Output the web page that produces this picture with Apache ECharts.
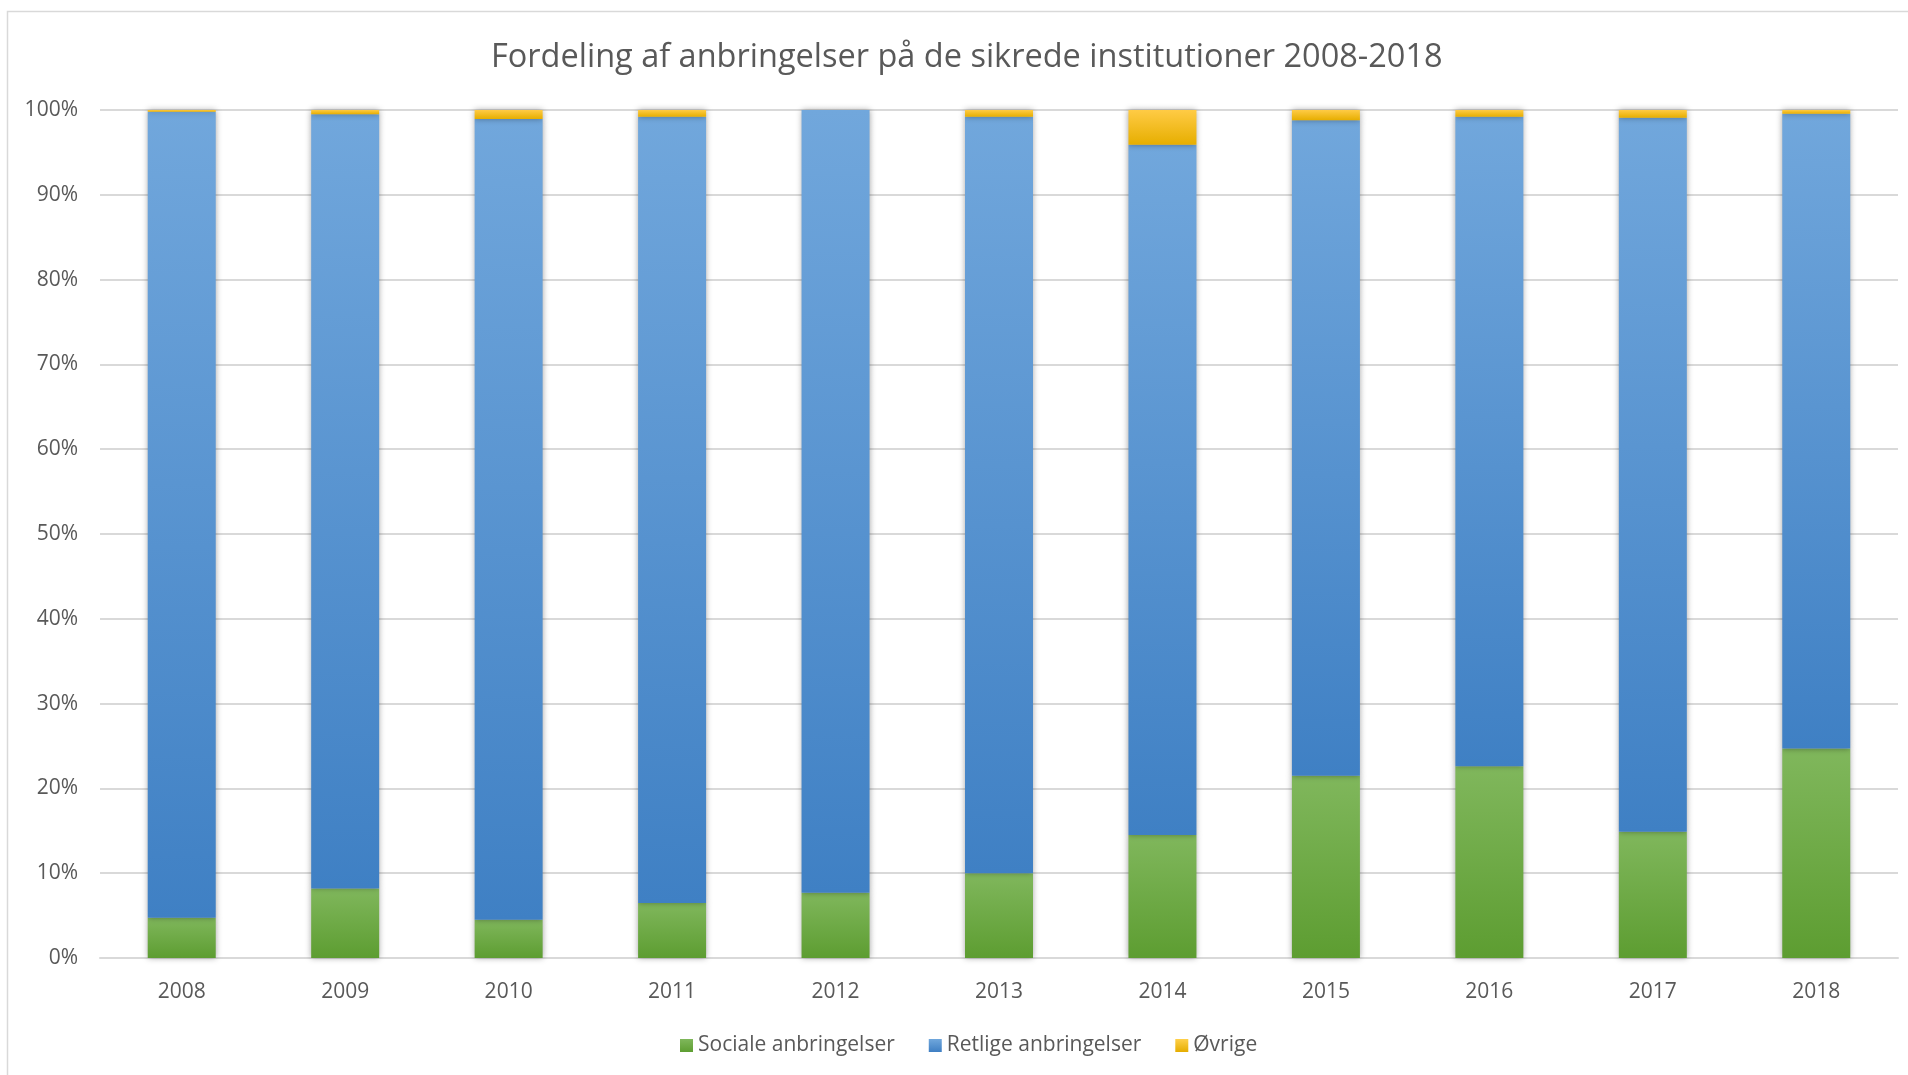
<!DOCTYPE html>
<html>
<head>
<meta charset="utf-8">
<script src="https://cdn.jsdelivr.net/npm/echarts@6/dist/echarts.min.js"></script>
<style>
html, body {margin: 0; padding: 0; background: #fff;}
#chart {width: 1908px; height: 1075px;}
</style>
</head>
<body>
<div id="chart"></div>
<script>
var years = ["2008", "2009", "2010", "2011", "2012", "2013", "2014", "2015", "2016", "2017", "2018"];
// andele i procent
var sociale = [4.75, 8.2, 4.5, 6.5, 7.7, 10.0, 14.5, 21.5, 22.6, 14.9, 24.7];
var retlige = [95.05, 91.3, 94.45, 92.7, 92.3, 89.2, 81.4, 77.3, 76.6, 84.2, 74.85];
var oevrige = [0.2, 0.5, 1.05, 0.8, 0, 0.8, 4.1, 1.2, 0.8, 0.9, 0.45];
var yTicks = [0, 10, 20, 30, 40, 50, 60, 70, 80, 90, 100];

var font = "Open Sans";

function grad(top, bottom) {
    return new echarts.graphic.LinearGradient(0, 0, 0, 1, [
        {offset: 0, color: top}, {offset: 1, color: bottom}
    ]);
}

function barSeries(name, data, top, bottom) {
    return {
        name: name,
        type: "bar",
        stack: "total",
        barWidth: 68,
        data: data,
        itemStyle: {
            color: grad(top, bottom),
            shadowBlur: 6,
            shadowColor: "rgba(0,0,0,0.35)"
        }
    };
}

var chart = echarts.init(document.getElementById("chart"), null, {renderer: "canvas"});

chart.setOption({
    animation: false,
    backgroundColor: "#fff",
    graphic: [{
        type: "rect",
        shape: {x: 7.5, y: 11.5, width: 1920, height: 1080},
        style: {fill: "none", stroke: "#d9d9d9", lineWidth: 1.5},
        silent: true
    }],
    title: {
        text: "Fordeling af anbringelser på de sikrede institutioner 2008-2018",
        left: 486,
        top: 36,
        textStyle: {fontFamily: font, fontSize: 32.5, fontWeight: "normal", color: "#595959"}
    },
    legend: {
        bottom: 14,
        left: 675,
        itemWidth: 13,
        itemHeight: 13,
        itemGap: 34,
        icon: "rect",
        textStyle: {fontFamily: font, fontSize: 21, color: "#595959", padding: [0, 0, 0, 0]},
        data: [
            {name: "Sociale anbringelser", itemStyle: {color: grad("#7fb75b", "#5e9e32"), shadowBlur: 0}},
            {name: "Retlige anbringelser", itemStyle: {color: grad("#70a7dc", "#3f7fc3"), shadowBlur: 0}},
            {name: "Øvrige", itemStyle: {color: grad("#ffd04a", "#e5ad00"), shadowBlur: 0}}
        ]
    },
    grid: {left: 100, right: 10, top: 110, bottom: 117, containLabel: false},
    xAxis: {
        type: "category",
        data: years,
        axisLine: {lineStyle: {color: "#d9d9d9", width: 2}},
        axisTick: {show: false},
        axisLabel: {fontFamily: font, fontSize: 21, color: "#595959", margin: 24}
    },
    yAxis: {
        type: "value",
        min: yTicks[0],
        max: yTicks[yTicks.length - 1],
        interval: 10,
        axisLine: {show: false},
        axisTick: {show: false},
        axisLabel: {fontFamily: font, fontSize: 21, color: "#595959", margin: 22, formatter: "{value}%"},
        splitLine: {lineStyle: {color: "#d9d9d9", width: 2}}
    },
    series: [
        barSeries("Sociale anbringelser", sociale, "#80b75c", "#5d9d31"),
        barSeries("Retlige anbringelser", retlige, "#71a7dc", "#3f80c4"),
        barSeries("Øvrige", oevrige, "#ffcb45", "#e6ae00")
    ]
});
</script>
</body>
</html>
